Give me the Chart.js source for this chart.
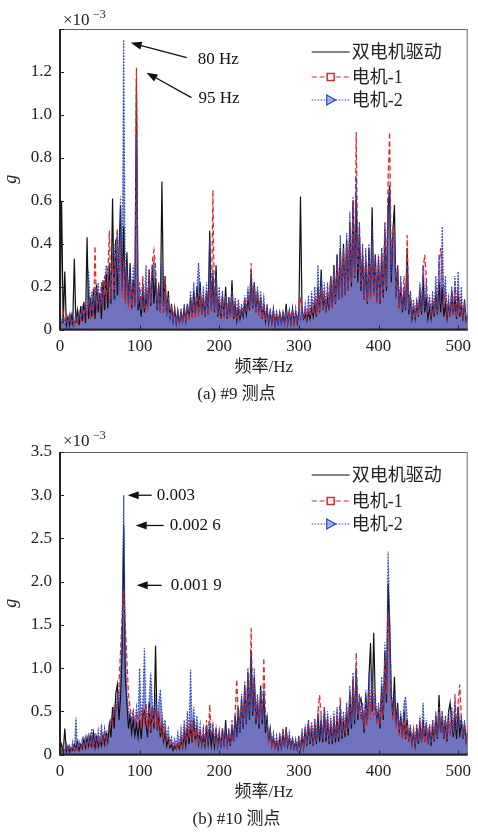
<!DOCTYPE html>
<html>
<head>
<meta charset="utf-8">
<script src="https://cdn.jsdelivr.net/npm/chart.js@4.4.1/dist/chart.umd.min.js"></script>
<style>
html, body { margin: 0; padding: 0; background: #fff; }
#wrapA { position: relative; width: 478px; height: 410px; }
#wrapB { position: relative; width: 478px; height: 425px; }
</style>
</head>
<body>
<div id="wrapA"><canvas id="specA"></canvas></div>
<div id="wrapB"><canvas id="specB"></canvas></div>
<script>
// amplitude spectra, unit 1e-3 g, one value every 2 Hz from 0 to 512 Hz
const STEP_HZ = 2;
const seriesNames = ['双电机驱动', '电机-1', '电机-2'];

// (a) measuring point #9
const A_dual = [
  .05,.60,.03,.27,.02,.06,.02,.07,.03,.33, .03,.09,.02,.11,.04,.13,.03,.43,.05,.15,
  .06,.19,.05,.21,.08,.17,.05,.23,.09,.26, .10,.31,.12,.61,.14,.42,.16,.36,.58,.18,
  .48,.14,.36,.12,.31,.10,.23,.12,1.17,.09, .13,.06,.19,.08,.16,.10,.28,.11,.30,.12,
  .24,.09,.21,.08,.69,.11,.25,.07,.18,.05, .12,.04,.10,.03,.09,.03,.08,.04,.10,.04,
  .12,.05,.15,.06,.18,.07,.20,.08,.22,.07, .15,.06,.18,.07,.46,.09,.25,.08,.30,.06,
  .14,.05,.16,.06,.20,.05,.15,.06,.23,.05, .12,.04,.10,.05,.09,.06,.12,.07,.14,.09,
  .26,.10,.22,.08,.18,.07,.15,.05,.12,.04, .10,.03,.08,.03,.09,.02,.07,.03,.08,.03,
  .08,.03,.12,.03,.09,.03,.10,.03,.08,.03, .08,.62,.08,.05,.07,.04,.08,.05,.10,.06,
  .12,.06,.20,.08,.28,.09,.16,.08,.15,.09, .25,.10,.30,.12,.35,.14,.38,.15,.40,.16,
  .42,.18,.50,.20,.60,.24,.62,.22,.45,.18, .35,.14,.32,.12,.38,.15,.57,.16,.35,.13,
  .32,.12,.35,.15,.45,.18,.55,.67,.22,.45, .58,.15,.30,.10,.20,.08,.18,.09,.38,.07,
  .15,.05,.10,.05,.12,.06,.18,.07,.25,.08, .15,.05,.10,.05,.12,.06,.18,.07,.22,.08,
  .20,.06,.12,.05,.12,.06,.18,.07,.15,.05, .18,.06,.12,.04,.14,.04,.06
];
const A_m1 = [
  .05,.02,.08,.03,.06,.02,.07,.03,.05,.02, .05,.03,.08,.04,.10,.05,.12,.06,.14,.06,
  .12,.07,.39,.08,.15,.09,.22,.10,.25,.12, .25,.46,.14,.35,.16,.38,.47,.18,.40,.15,
  .32,.12,.25,.10,.22,.09,.20,.10,1.22,.12, .22,.09,.25,.10,.22,.08,.28,.12,.32,.37,
  .30,.11,.22,.08,.18,.07,.25,.06,.15,.05, .10,.04,.09,.03,.08,.03,.07,.03,.09,.04,
  .10,.04,.12,.05,.14,.05,.16,.06,.18,.07, .16,.06,.18,.07,.20,.08,.65,.09,.22,.07,
  .15,.05,.14,.05,.15,.06,.14,.05,.18,.06, .14,.05,.12,.06,.10,.07,.15,.08,.18,.10,
  .31,.10,.20,.08,.18,.06,.15,.05,.12,.04, .09,.03,.08,.03,.07,.02,.08,.03,.07,.03,
  .07,.03,.09,.03,.08,.03,.09,.03,.07,.03, .10,.15,.08,.05,.10,.05,.10,.06,.12,.07,
  .15,.07,.18,.08,.20,.09,.18,.08,.20,.09, .25,.10,.30,.12,.32,.14,.35,.15,.38,.16,
  .40,.18,.50,.22,.60,.25,.92,.28,.50,.20, .38,.14,.35,.13,.32,.14,.40,.15,.30,.12,
  .35,.13,.38,.16,.50,.20,.70,.92,.30,.48, .40,.14,.28,.10,.22,.09,.25,.10,.44,.09,
  .18,.06,.12,.05,.13,.06,.20,.08,.28,.35, .25,.08,.15,.06,.14,.07,.20,.08,.30,.38,
  .30,.10,.18,.07,.12,.06,.18,.07,.22,.06, .20,.07,.12,.05,.12,.05,.06
];
const A_m2 = [
  .08,.03,.06,.02,.05,.02,.06,.03,.08,.03, .07,.04,.08,.05,.10,.06,.12,.07,.28,.08,
  .18,.08,.20,.09,.22,.10,.20,.11,.22,.30, .28,.12,.25,.35,.40,.14,.45,.16,.62,.20,
  1.35,.18,.30,.12,.28,.13,.30,.11,.90,.10, .20,.09,.22,.11,.30,.12,.25,.13,.28,.32,
  .26,.10,.20,.09,.31,.08,.16,.06,.12,.05, .09,.04,.08,.03,.08,.03,.10,.04,.12,.05,
  .12,.06,.18,.07,.22,.08,.20,.31,.20,.08, .20,.07,.22,.09,.42,.10,.28,.09,.25,.08,
  .20,.07,.18,.06,.16,.06,.15,.07,.18,.07, .15,.06,.14,.07,.12,.08,.16,.09,.20,.11,
  .28,.11,.22,.09,.20,.08,.18,.07,.15,.05, .12,.04,.10,.04,.10,.03,.09,.03,.08,.03,
  .08,.03,.10,.03,.08,.03,.09,.04,.10,.04, .10,.05,.10,.06,.12,.06,.16,.07,.18,.08,
  .20,.09,.30,.10,.25,.10,.22,.09,.22,.10, .25,.12,.30,.13,.35,.14,.44,.16,.38,.18,
  .45,.20,.55,.24,.62,.28,.71,.30,.50,.22, .40,.16,.38,.15,.40,.18,.48,.17,.35,.14,
  .35,.14,.38,.18,.50,.22,.60,.65,.25,.45, .42,.15,.30,.12,.25,.10,.20,.10,.30,.09,
  .18,.07,.14,.06,.15,.08,.22,.09,.30,.10, .22,.08,.16,.07,.18,.08,.25,.10,.35,.12,
  .48,.15,.25,.09,.15,.07,.20,.08,.25,.09, .27,.08,.20,.06,.12,.05,.08
];

// (b) measuring point #10
const B_dual = [
  .05,.12,.03,.30,.04,.10,.03,.08,.05,.12, .06,.15,.05,.12,.07,.18,.08,.20,.10,.22,
  .10,.25,.08,.20,.09,.18,.10,.22,.12,.25, .15,.35,.20,.55,.30,.70,.81,.40,.65,1.20,
  2.65,.90,.60,.30,.45,.25,.40,.22,.35,.20, .40,.18,.45,.50,.35,.20,.60,.25,.55,.30,
  1.26,.28,.45,.20,.35,.15,.25,.10,.18,.08, .12,.05,.10,.06,.12,.07,.18,.08,.25,.10,
  .30,.12,.35,.14,.40,.15,.30,.12,.25,.10, .22,.10,.30,.12,.28,.10,.25,.09,.30,.10,
  .25,.08,.30,.10,.40,.12,.25,.10,.35,.15, .45,.20,.55,.25,.65,.30,.80,.35,.95,.40,
  1.20,.45,.90,.35,.60,.30,.80,.35,.70,.25, .45,.15,.30,.10,.20,.08,.15,.06,.20,.08,
  .25,.09,.32,.10,.20,.08,.18,.07,.15,.06, .18,.07,.22,.08,.30,.10,.35,.12,.30,.10,
  .35,.12,.45,.15,.40,.14,.50,.15,.40,.12, .35,.12,.40,.14,.45,.15,.50,.18,.40,.20,
  .50,.22,.70,.30,.85,.35,1.00,.40,.60,.65, .50,.25,.70,.35,.90,1.29,.50,1.41,.60,.40,
  .50,.30,.80,.40,1.20,.60,1.98,1.50,.70,.45, .90,.35,.60,.25,.45,.20,.50,.18,.40,.15,
  .30,.12,.25,.10,.30,.12,.35,.14,.40,.15, .35,.12,.30,.10,.35,.15,.45,.18,.69,.25,
  .45,.18,.40,.15,.50,.60,.35,.20,.45,.18, .55,.20,.40,.18,.35,.15,.25
];
const B_m1 = [
  .08,.04,.10,.03,.08,.05,.10,.04,.12,.05, .08,.05,.12,.06,.10,.07,.15,.08,.18,.10,
  .15,.08,.20,.10,.22,.12,.25,.10,.28,.12, .25,.30,.40,.35,.55,.45,.60,.80,1.20,1.60,
  1.90,1.50,1.10,.70,.55,.40,.50,.35,.45,.30, .50,.30,.55,.35,.60,.30,.55,.28,.50,.35,
  .55,.30,.50,.25,.40,.20,.30,.15,.20,.10, .15,.08,.12,.07,.15,.08,.20,.10,.30,.15,
  .35,.18,.40,.20,.35,.15,.30,.12,.28,.12, .30,.12,.40,.15,.58,.20,.35,.12,.30,.10,
  .28,.10,.30,.12,.25,.10,.30,.12,.40,.15, .50,.87,.45,.30,.60,.35,.75,.40,.90,.50,
  1.46,.60,.85,.40,.65,.35,.70,.40,1.12,.45, .40,.15,.25,.10,.20,.08,.18,.07,.22,.09,
  .28,.10,.30,.12,.22,.09,.18,.08,.15,.07, .20,.08,.25,.10,.32,.12,.40,.15,.35,.12,
  .40,.15,.50,.69,.45,.18,.55,.20,.45,.15, .40,.15,.45,.18,.50,.20,.66,.22,.45,.25,
  .55,.30,.75,.35,.90,.40,1.18,.45,.70,.40, .55,.30,.60,.35,.75,.40,.85,.45,.60,.35,
  .55,.35,.75,.45,1.10,.70,1.64,1.20,.65,.40, .60,.30,.50,.22,.40,.18,.45,.20,.35,.15,
  .28,.12,.30,.12,.35,.14,.40,.15,.35,.14, .30,.12,.35,.14,.40,.16,.45,.20,.55,.25,
  .50,.20,.45,.18,.40,.20,.50,.25,.70,.30, .60,.81,.45,.20,.35,.15,.20
];
const B_m2 = [
  .10,.04,.08,.05,.12,.04,.10,.06,.15,.05, .43,.06,.15,.07,.18,.08,.20,.09,.22,.10,
  .30,.10,.25,.12,.28,.14,.35,.12,.30,.15, .25,.35,.40,.45,.55,.50,.70,.60,.90,1.50,
  3.00,1.20,.70,.50,.45,.40,.50,.35,.55,.40, 1.00,.45,.60,1.23,.55,.40,.65,.95,.60,.45,
  .70,.40,.60,.75,.50,.30,.40,.20,.30,.15, .20,.10,.18,.12,.25,.12,.30,.15,.40,.20,
  .50,.25,.98,.30,.55,.25,.45,.20,.35,.15, .30,.15,.35,.18,.40,.20,.35,.15,.30,.12,
  .25,.10,.30,.12,.28,.10,.30,.12,.35,.15, .45,.20,.55,.25,.70,.30,.85,.35,1.00,.40,
  1.20,.50,1.00,.45,.70,.35,.75,.40,.80,.35, .45,.18,.30,.12,.25,.10,.22,.09,.25,.10,
  .30,.12,.28,.10,.25,.10,.20,.08,.18,.07, .22,.09,.30,.12,.35,.14,.40,.15,.38,.14,
  .42,.16,.50,.20,.45,.18,.55,.20,.50,.18, .45,.18,.50,.20,.55,.22,.60,.25,.50,.28,
  .60,.30,.80,.35,.95,.40,1.00,.45,.70,.40, .60,.35,.75,.40,.95,.50,1.00,.55,.70,.40,
  .60,.40,.90,.50,1.30,.80,2.35,1.60,.80,.50, .70,.35,.55,.30,.50,.25,.60,.67,.45,.20,
  .35,.15,.30,.12,.35,.15,.45,.18,.60,.22, .40,.15,.35,.14,.40,.18,.50,.20,.55,.25,
  .50,.22,.45,.20,.50,.25,.55,.25,.60,.28, .55,.30,.45,.20,.40,.18,.30
];

const freqHz = A_dual.map((_, i) => i * STEP_HZ);

const SERIF = "'Times New Roman', 'Liberation Serif', 'Noto Sans CJK SC', serif";
const colors = ['#111111', 'rgb(218,38,42)', 'rgb(45,68,185)'];
// translucent area under each trace, standing in for the dense sample cloud
const shades = ['rgba(20,20,20,0.12)', 'rgba(218,38,42,0.22)', 'rgba(55,80,195,0.66)'];
const dashes = [[], [5, 3], [1.5, 1.5]];

function pts(vals) {
  return vals.map((v, i) => ({ x: freqHz[i], y: v }));
}

// frame, inward ticks, exponent, arrows and legend
const decor = {
  id: 'decor',
  afterDatasetsDraw(chart, args, o) {
    const { ctx, chartArea: a, scales: { x, y } } = chart;
    ctx.save();
    ctx.strokeStyle = '#666';
    ctx.lineWidth = 1;
    ctx.strokeRect(a.left + 0.5, a.top + 0.5, a.right - a.left - 1, a.bottom - a.top);
    ctx.strokeStyle = '#222';
    ctx.lineWidth = 2;
    ctx.beginPath();
    ctx.moveTo(a.left, a.top);
    ctx.lineTo(a.left, a.bottom);
    ctx.lineTo(a.right, a.bottom);
    ctx.stroke();
    ctx.lineWidth = 1;
    ctx.beginPath();
    x.ticks.forEach(t => {
      const px = Math.round(x.getPixelForValue(t.value)) + 0.5;
      ctx.moveTo(px, a.bottom); ctx.lineTo(px, a.bottom - 4);
    });
    y.ticks.forEach(t => {
      const py = Math.round(y.getPixelForValue(t.value)) + 0.5;
      ctx.moveTo(a.left, py); ctx.lineTo(a.left + 4, py);
    });
    ctx.stroke();

    // ×10^-3
    ctx.fillStyle = '#222';
    ctx.textBaseline = 'alphabetic';
    ctx.textAlign = 'left';
    ctx.font = '17px ' + SERIF;
    ctx.fillText('×10', a.left + 3, a.top + o.expDy);
    ctx.font = '12px ' + SERIF;
    ctx.fillText('−3', a.left + 33, a.top + o.expDy - 7);

    // arrows to the marked peaks
    ctx.font = '17px ' + SERIF;
    ctx.textBaseline = 'middle';
    o.arrows.forEach(ar => {
      const tx = x.getPixelForValue(ar.f) + ar.tip[0];
      const ty = y.getPixelForValue(ar.v) + ar.tip[1];
      const sx = tx + ar.tail[0], sy = ty + ar.tail[1];
      const ang = Math.atan2(ty - sy, tx - sx);
      ctx.strokeStyle = '#111';
      ctx.lineWidth = 1.3;
      ctx.beginPath();
      ctx.moveTo(sx, sy);
      ctx.lineTo(tx - 8 * Math.cos(ang), ty - 8 * Math.sin(ang));
      ctx.stroke();
      ctx.beginPath();
      ctx.moveTo(tx, ty);
      ctx.lineTo(tx - 11 * Math.cos(ang) + 4 * Math.sin(ang), ty - 11 * Math.sin(ang) - 4 * Math.cos(ang));
      ctx.lineTo(tx - 11 * Math.cos(ang) - 4 * Math.sin(ang), ty - 11 * Math.sin(ang) + 4 * Math.cos(ang));
      ctx.closePath();
      ctx.fillStyle = '#111';
      ctx.fill();
      ctx.fillText(ar.text, tx + ar.label[0], ty + ar.label[1]);
    });

    // legend: line sample with marker, then name
    const lx = a.right - 156;
    seriesNames.forEach((name, k) => {
      const ly = a.top + o.legendDy[k];
      ctx.strokeStyle = colors[k];
      ctx.lineWidth = 1.2;
      ctx.setLineDash(dashes[k]);
      ctx.beginPath();
      ctx.moveTo(lx, ly); ctx.lineTo(lx + 38, ly);
      ctx.stroke();
      ctx.setLineDash([]);
      const mx = lx + 19;
      if (k === 1) {
        ctx.fillStyle = '#fff';
        ctx.fillRect(mx - 3.5, ly - 3.5, 7, 7);
        ctx.lineWidth = 1.5;
        ctx.strokeRect(mx - 3.5, ly - 3.5, 7, 7);
      } else if (k === 2) {
        ctx.beginPath();
        ctx.moveTo(mx + 5, ly); ctx.lineTo(mx - 4, ly - 5); ctx.lineTo(mx - 4, ly + 5);
        ctx.closePath();
        ctx.fillStyle = 'rgba(120,140,220,0.6)';
        ctx.fill();
        ctx.stroke();
      }
      ctx.fillStyle = '#222';
      ctx.font = '18px ' + SERIF;
      ctx.textBaseline = 'middle';
      ctx.fillText(name, lx + 40, ly + 1);
    });
    ctx.restore();
  }
};

function makeChart(id, vals, yMax, yStep, hideTop, caption, decorOpts, topPad) {
  const datasets = vals.map((v, k) => ({
    label: seriesNames[k],
    data: pts(v),
    borderColor: colors[k],
    backgroundColor: shades[k],
    borderWidth: 1.2,
    borderDash: dashes[k],
    pointRadius: 0,
    tension: 0,
    fill: 'origin',
    order: 3 - k,
  }));
  return new Chart(document.getElementById(id), {
    type: 'line',
    data: { datasets },
    plugins: [decor],
    options: {
      responsive: true,
      maintainAspectRatio: false,
      animation: false,
      layout: { padding: { top: topPad, right: 5, left: 0, bottom: 0 } },
      scales: {
        x: {
          type: 'linear',
          min: 0,
          max: 512,
          grid: { display: false, drawTicks: false },
          border: { display: false },
          ticks: {
            stepSize: 100,
            includeBounds: false,
            maxRotation: 0,
            padding: 7,
            color: '#222',
            font: { family: SERIF, size: 17 },
          },
          title: {
            display: true,
            text: '频率/Hz',
            color: '#222',
            font: { family: SERIF, size: 17 },
            padding: { top: 2, bottom: 2 },
          },
          afterFit: s => { s.height = 50; },
        },
        y: {
          min: 0,
          max: yMax,
          grid: { display: false, drawTicks: false },
          border: { display: false },
          ticks: {
            stepSize: yStep,
            padding: 8,
            color: '#222',
            font: { family: SERIF, size: 17 },
            callback: v => (hideTop && v > yMax - 1e-6) ? '' : (Math.abs(v) < 1e-9 ? '0' : v.toFixed(1)),
          },
          title: {
            display: true,
            text: 'g',
            color: '#222',
            font: { family: SERIF, size: 18, style: 'italic' },
            padding: { top: 0, bottom: 0 },
          },
          afterFit: s => { s.width = 60; },
        },
      },
      plugins: {
        legend: { display: false },
        tooltip: { enabled: false },
        // all areas first, then every trace line over them
        filler: { propagate: false, drawTime: 'beforeDatasetsDraw' },
        title: {
          display: true,
          position: 'bottom',
          text: caption,
          color: '#222',
          font: { family: SERIF, size: 17, weight: 'normal' },
          padding: { top: 5, bottom: 5 },
        },
        decor: decorOpts,
      },
    },
  });
}

makeChart('specA', [A_dual, A_m1, A_m2], 1.4, 0.2, true, '(a) #9 测点', {
  expDy: -4,
  legendDy: [23, 48, 71],
  arrows: [
    { f: 80, v: A_m2[40], tip: [7, 3], tail: [56, 15], label: [67, 17], text: '80 Hz' },
    { f: 96, v: A_m1[48], tip: [10, 5], tail: [45, 25], label: [52, 26], text: '95 Hz' },
  ],
}, 29);

makeChart('specB', [B_dual, B_m1, B_m2], 3.5, 0.5, false, '(b) #10 测点', {
  expDy: -6,
  legendDy: [23, 49, 72],
  arrows: [
    { f: 80, v: B_m2[40], tip: [4, 0], tail: [24, 0], label: [29, 0], text: '0.003' },
    { f: 80, v: B_dual[40], tip: [12, 0], tail: [28, 0], label: [34, 0], text: '0.002 6' },
    { f: 80, v: B_m1[40], tip: [13, -5], tail: [25, 0], label: [34, 0], text: '0.001 9' },
  ],
}, 42);
</script>
</body>
</html>
